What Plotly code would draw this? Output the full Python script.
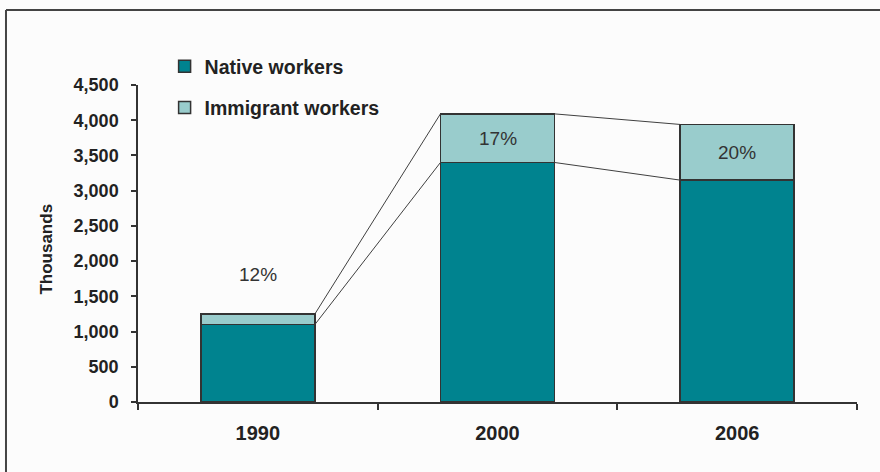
import plotly.graph_objects as go

# Workforce by origin, thousands
years = ["1990", "2000", "2006"]
native = [1100, 3400, 3150]
immigrant = [150, 690, 790]
y_ticks = [0, 500, 1000, 1500, 2000, 2500, 3000, 3500, 4000, 4500]

NATIVE_COLOR = "#00838f"
IMMIGRANT_COLOR = "#99cccc"
EDGE = "#333333"
BAR_W = 1 / 2.1  # Excel-style gap width of 110%
FONT = "Liberation Sans, Arial, sans-serif"

xs = list(range(len(years)))
totals = [n + m for n, m in zip(native, immigrant)]
shares = [m / t for m, t in zip(immigrant, totals)]

fig = go.Figure()
fig.add_trace(go.Bar(
    x=xs, y=native, name="<b>Native workers</b>", width=BAR_W,
    marker=dict(color=NATIVE_COLOR, line=dict(color=EDGE, width=1.5)),
    legendgroup="a", hoverinfo="skip",
))
fig.add_trace(go.Bar(
    x=xs, y=immigrant, name="<b>Immigrant workers</b>", width=BAR_W,
    marker=dict(color=IMMIGRANT_COLOR, line=dict(color=EDGE, width=1.5)),
    legendgroup="b", hoverinfo="skip",
))

# Series lines joining the tops of each stacked segment
for level in (native, totals):
    for i in range(len(xs) - 1):
        fig.add_trace(go.Scatter(
            x=[xs[i] + BAR_W / 2, xs[i + 1] - BAR_W / 2],
            y=[level[i], level[i + 1]],
            mode="lines", line=dict(color="#404040", width=1),
            showlegend=False, hoverinfo="skip",
        ))

# Immigrant share labels
for i, (x, s) in enumerate(zip(xs, shares)):
    if i == 0:
        fig.add_annotation(x=x, y=totals[i], text=f"{round(s * 100)}%",
                           showarrow=False, yshift=39,
                           font=dict(size=19, color="#333333"))
    else:
        fig.add_annotation(x=x, y=native[i] + immigrant[i] / 2,
                           text=f"{round(s * 100)}%", showarrow=False,
                           font=dict(size=19, color="#333333"))

fig.add_annotation(xref="paper", yref="paper", x=-0.127, y=0.483,
                   xanchor="center", yanchor="middle",
                   text="<b>Thousands</b>", textangle=-90, showarrow=False,
                   font=dict(size=17, color="#222222"))

# Outer frame: only its left and top edges fall inside the canvas
frame = dict(color="#444444", width=2)
fig.add_shape(type="line", xref="paper", yref="paper",
              x0=-0.1836, x1=-0.1836, y0=-0.25, y1=1.2366, line=frame)
fig.add_shape(type="line", xref="paper", yref="paper",
              x0=-0.1836, x1=1.032, y0=1.2366, y1=1.2366, line=frame)

fig.update_layout(
    width=880, height=472,
    margin=dict(l=138, r=23, t=85, b=70),
    barmode="stack",
    paper_bgcolor="#fcfcfc", plot_bgcolor="#fcfcfc",
    font=dict(family=FONT, color="#222222"),
    showlegend=True,
    legend=dict(
        x=0.037, y=1.12, xanchor="left", yanchor="top",
        font=dict(size=19.5, color="#222222", family=FONT),
        tracegroupgap=13, bgcolor="rgba(0,0,0,0)", traceorder="grouped",
        itemwidth=30,
    ),
    xaxis=dict(
        range=[-0.5, 2.5], tickmode="array", tickvals=xs,
        ticktext=[f"<b>{y}</b>" for y in years],
        tickfont=dict(size=20, color="#222222"),
        ticks="", showgrid=False, zeroline=False,
        showline=True, linecolor="#333333", linewidth=1.5,
        ticklabelstandoff=12,
        minor=dict(tickmode="linear", tick0=0.5, dtick=1, ticks="outside",
                   ticklen=6, tickcolor="#333333", tickwidth=1.5,
                   showgrid=False),
    ),
    yaxis=dict(
        range=[0, 4500], tickmode="array", tickvals=y_ticks,
        ticktext=[f"<b>{v:,}</b>" for v in y_ticks],
        tickfont=dict(size=18, color="#222222"),
        ticks="outside", ticklen=5, tickcolor="#333333", tickwidth=1.5,
        showgrid=False, zeroline=False,
        showline=True, linecolor="#333333", linewidth=1.5,
        ticklabelstandoff=9,
    ),
)

fig.write_html("out.html")
